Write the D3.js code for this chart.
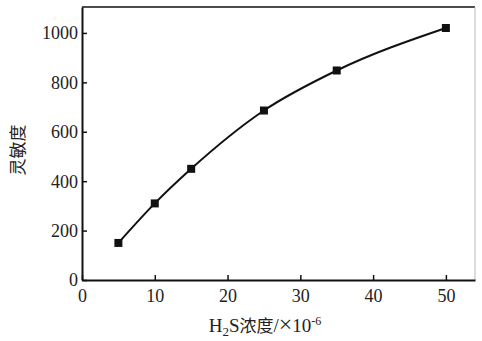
<!DOCTYPE html>
<html>
<head>
<meta charset="utf-8">
<script src="https://cdn.jsdelivr.net/npm/d3@7"></script>
<style>
  body { margin: 0; background: #fff; }
  text { font-family: "Liberation Serif", "DejaVu Serif", serif; fill: #222; }
  .cjk { font-family: "Noto Sans CJK SC", sans-serif; }
</style>
</head>
<body>
<div id="chart"></div>
<script>
// data
var concentration = [5, 10, 15, 25, 35, 50];
var sensitivity = [150, 310, 450, 686, 848, 1020];
var xTicks = [0, 10, 20, 30, 40, 50];
var yTicks = [0, 200, 400, 600, 800, 1000];

var svgWidth = 482;
var svgHeight = 341;

var margin = { top: 7, right: 7, bottom: 61, left: 82 };
var chartWidth = svgWidth - margin.left - margin.right;
var chartHeight = svgHeight - margin.top - margin.bottom;

var svg = d3.select("#chart")
  .append("svg")
  .attr("width", svgWidth)
  .attr("height", svgHeight);

var chartGroup = svg.append("g")
  .attr("transform", `translate(${margin.left}, ${margin.top})`);

var xScale = d3.scaleLinear().domain([0, 54]).range([0, chartWidth]);
var yScale = d3.scaleLinear().domain([0, 1105]).range([chartHeight, 0]);

// frame: top dark, right light
chartGroup.append("line")
  .attr("x1", 0).attr("x2", chartWidth).attr("y1", 0).attr("y2", 0)
  .attr("stroke", "#111").attr("stroke-width", 1.5);
chartGroup.append("line")
  .attr("x1", chartWidth).attr("x2", chartWidth).attr("y1", 0).attr("y2", chartHeight)
  .attr("stroke", "#bbb").attr("stroke-width", 1);

var bottomAxis = d3.axisBottom(xScale).tickValues(xTicks).tickFormat(d3.format("d"))
  .tickSizeInner(-5).tickSizeOuter(0).tickPadding(7);
var leftAxis = d3.axisLeft(yScale).tickValues(yTicks).tickFormat(d3.format("d"))
  .tickSizeInner(-5).tickSizeOuter(0).tickPadding(4);

var xg = chartGroup.append("g")
  .attr("transform", `translate(0, ${chartHeight})`)
  .call(bottomAxis);
var yg = chartGroup.append("g").call(leftAxis);

[xg, yg].forEach(function(g) {
  g.attr("font-family", "'Liberation Serif', serif").attr("font-size", 18);
  g.select(".domain").attr("stroke", "#111").attr("stroke-width", 2);
  g.selectAll(".tick line").attr("stroke", "#111").attr("stroke-width", 1.5);
  g.selectAll(".tick text").attr("fill", "#2a2a2a");
});
xg.selectAll(".tick text").attr("dy", "0.85em");
yg.selectAll(".tick text").attr("dy", "0.33em");

var points = concentration.map(function(c, i) { return { x: c, y: sensitivity[i] }; });

var line = d3.line()
  .x(d => xScale(d.x))
  .y(d => yScale(d.y))
  .curve(d3.curveMonotoneX);

chartGroup.append("path")
  .datum(points)
  .attr("d", line)
  .attr("fill", "none")
  .attr("stroke", "#111")
  .attr("stroke-width", 2);

chartGroup.selectAll("rect.marker")
  .data(points)
  .enter()
  .append("rect")
  .attr("class", "marker")
  .attr("x", d => xScale(d.x) - 4)
  .attr("y", d => yScale(d.y) - 4)
  .attr("width", 8)
  .attr("height", 8)
  .attr("fill", "#111");

// axis labels
var xl = svg.append("text")
  .attr("x", 265)
  .attr("y", 332)
  .attr("text-anchor", "middle")
  .style("font-size", "19px");
xl.append("tspan").text("H");
xl.append("tspan").attr("dy", 4).style("font-size", "13px").text("2");
xl.append("tspan").attr("dy", -4).text("S");
xl.append("tspan").attr("class", "cjk").style("font-size", "17px").text("浓度");
xl.append("tspan").text("/");
xl.append("tspan").style("font-size", "24px").text("×");
xl.append("tspan").text("10");
xl.append("tspan").attr("dy", -7).style("font-size", "12px").text("-6");

svg.append("text")
  .attr("class", "cjk")
  .attr("transform", `translate(24, 150) rotate(-90)`)
  .attr("text-anchor", "middle")
  .style("font-size", "17px")
  .text("灵敏度");
</script>
</body>
</html>
